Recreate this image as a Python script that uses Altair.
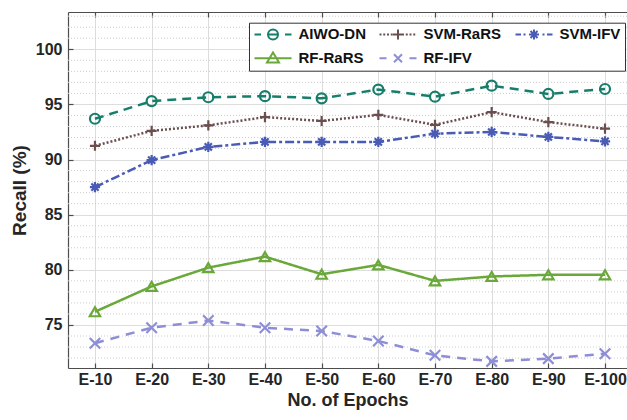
import altair as alt
import pandas as pd

epochs = [10, 20, 30, 40, 50, 60, 70, 80, 90, 100]
series_names = ["AIWO-DN", "SVM-RaRS", "SVM-IFV", "RF-RaRS", "RF-IFV"]
aiwo_dn = [93.7, 95.3, 95.65, 95.75, 95.55, 96.35, 95.7, 96.7, 95.95, 96.4]
svm_rars = [91.25, 92.6, 93.1, 93.85, 93.5, 94.05, 93.15, 94.3, 93.4, 92.8]
svm_ifv = [87.5, 89.95, 91.15, 91.6, 91.6, 91.6, 92.35, 92.5, 92.05, 91.65]
rf_rars = [76.2, 78.5, 80.2, 81.2, 79.6, 80.45, 79.0, 79.4, 79.55, 79.55]
rf_ifv = [73.35, 74.75, 75.4, 74.75, 74.45, 73.55, 72.25, 71.7, 71.95, 72.4]
y_ticks = [75, 80, 85, 90, 95, 100]
minor_y = [v for v in range(72, 104) if v % 5 != 0]

colors = ["#177e6b", "#6b4f4f", "#4a5bb5", "#6aa83a", "#8e8ed6"]
dashes = [[9, 6], [2, 2], [9, 3, 3, 3], [1, 0], [9, 7]]
point_shapes = [
    "circle",
    "M-1,0H1M0,-1V1",
    "M-1,0H1M0,-1V1M-0.7,-0.7L0.7,0.7M0.7,-0.7L-0.7,0.7",
    "triangle-up",
    "M-1,-1L1,1M1,-1L-1,1",
]
point_sizes = [100, 110, 100, 130, 70]


def segs(x0, x1, on, off):
    out = []
    x = x0
    while x < x1:
        e = min(x + on, x1)
        out.append(f"M{x:.2f},0H{e:.2f}")
        x = e + off
    return "".join(out)


circ = "M-1,0A1,1 0 1,0 1,0A1,1 0 1,0 -1,0"
legend_shapes = [
    "M-3.7,0H-2.4M2.4,0H3.7" + circ + "M-1,0H1",
    segs(-3.7, 3.7, 0.4, 0.35) + "M-1,0H1M0,-1V1",
    "M-3.7,0H-2.6M-2.1,0H-1.7M1.7,0H2.1M2.6,0H3.7"
    + "M-1,0H1M0,-1V1M-0.7,-0.7L0.7,0.7M0.7,-0.7L-0.7,0.7",
    "M-3.7,0H3.7M0,-1.15L1.2,0.85L-1.2,0.85Z",
    "M-3.7,0H-2.3M2.3,0H3.7M-0.8,-0.8L0.8,0.8M0.8,-0.8L-0.8,0.8",
]

rows = []
for name, vals in zip(series_names, [aiwo_dn, svm_rars, svm_ifv, rf_rars, rf_ifv]):
    for e, v in zip(epochs, vals):
        rows.append({"epoch": e, "value": v, "series": name})
df = pd.DataFrame(rows)
minor_df = pd.DataFrame({"v": minor_y})

FONT = "Liberation Sans"
TXT = "#262626"
AX = "#4d4d4d"

xscale = alt.Scale(domain=[5.24, 103.88], nice=False, zero=False)
yscale = alt.Scale(domain=[71.1, 103.38], nice=False, zero=False)


def cscale():
    return alt.Scale(domain=series_names, range=colors)


def legend_cfg():
    return alt.Legend(
        title=None,
        orient="none",
        direction="horizontal",
        legendX=181,
        legendY=10.7,
        columns=3,
        columnPadding=9,
        rowPadding=4,
        padding=4,
        symbolOffset=12.5,
        labelOffset=18,
        symbolSize=100,
        symbolStrokeWidth=2,
        labelFont=FONT,
        labelFontSize=15,
        labelFontWeight="bold",
        labelColor="#111111",
        strokeColor="#333333",
        fillColor="white",
        cornerRadius=0,
    )


minor = alt.Chart(minor_df).mark_rule(
    color="#cccccc", strokeDash=[1, 2], strokeWidth=1
).encode(y=alt.Y("v:Q", scale=yscale, axis=None))

lines = alt.Chart(df).mark_line(strokeWidth=2.5).encode(
    x=alt.X(
        "epoch:Q",
        scale=xscale,
        axis=alt.Axis(
            values=epochs,
            labelExpr="'E-' + datum.value",
            title="No. of Epochs",
            grid=True,
            gridColor="#dddddd",
            ticks=False,
            domainColor=AX,
            domainWidth=1.2,
            labelFont=FONT,
            labelFontSize=16,
            labelFontWeight="bold",
            labelColor=TXT,
            labelPadding=3,
            titleFont=FONT,
            titleFontSize=18,
            titleFontWeight="bold",
            titleColor=TXT,
            titlePadding=4,
        ),
    ),
    y=alt.Y(
        "value:Q",
        scale=yscale,
        axis=alt.Axis(
            values=y_ticks,
            title="Recall (%)",
            grid=True,
            gridColor="#dddddd",
            ticks=False,
            domainColor=AX,
            domainWidth=1.2,
            labelFont=FONT,
            labelFontSize=16,
            labelFontWeight="bold",
            labelColor=TXT,
            labelPadding=6,
            titleFont=FONT,
            titleFontSize=19,
            titleFontWeight="bold",
            titleColor=TXT,
            titlePadding=6,
        ),
    ),
    color=alt.Color("series:N", scale=cscale(), legend=None),
    strokeDash=alt.StrokeDash(
        "series:N", scale=alt.Scale(domain=series_names, range=dashes), legend=None
    ),
    detail="series:N",
)

points = alt.Chart(df).mark_point(filled=False, strokeWidth=2.2, opacity=1).encode(
    x=alt.X("epoch:Q", scale=xscale, axis=None),
    y=alt.Y("value:Q", scale=yscale, axis=None),
    color=alt.Color("series:N", scale=cscale(), legend=None),
    shape=alt.Shape(
        "series:N", scale=alt.Scale(domain=series_names, range=point_shapes), legend=None
    ),
    size=alt.Size(
        "series:N", scale=alt.Scale(domain=series_names, range=point_sizes), legend=None
    ),
)

legend_layer = alt.Chart(df).transform_filter("false").mark_point(
    filled=False, strokeWidth=2, size=100, opacity=1
).encode(
    x=alt.X("epoch:Q", scale=xscale, axis=None),
    y=alt.Y("value:Q", scale=yscale, axis=None),
    color=alt.Color("series:N", scale=cscale(), legend=legend_cfg()),
    shape=alt.Shape(
        "series:N",
        scale=alt.Scale(domain=series_names, range=legend_shapes),
        legend=legend_cfg(),
    ),
)

top_frame = alt.Chart(df).mark_point(opacity=0).encode(
    x=alt.X(
        "epoch:Q",
        scale=xscale,
        axis=alt.Axis(orient="top", labels=False, ticks=False, grid=False, title=None,
                      domainColor=AX, domainWidth=1.2),
    ),
    y=alt.Y(
        "value:Q",
        scale=yscale,
        axis=alt.Axis(orient="left", values=y_ticks, labels=False, ticks=True, tickSize=5,
                      offset=-5, domain=False, grid=False, title=None, tickColor=AX,
                      tickWidth=1.2),
    ),
)

top_ticks = alt.Chart(df).mark_point(opacity=0).encode(
    x=alt.X(
        "epoch:Q",
        scale=xscale,
        axis=alt.Axis(orient="top", values=epochs, labels=False, ticks=True, tickSize=5,
                      offset=-5, domain=False, grid=False, title=None, tickColor=AX,
                      tickWidth=1.2),
    ),
    y=alt.Y("value:Q", scale=yscale, axis=None),
)

bottom_ticks = alt.Chart(df).mark_point(opacity=0).encode(
    x=alt.X(
        "epoch:Q",
        scale=xscale,
        axis=alt.Axis(orient="bottom", values=epochs, labels=False, ticks=True, tickSize=5,
                      offset=-5, domain=False, grid=False, title=None, tickColor=AX,
                      tickWidth=1.2),
    ),
    y=alt.Y("value:Q", scale=yscale, axis=None),
)

chart = (
    alt.layer(minor, lines, points, legend_layer, top_frame, top_ticks, bottom_ticks)
    .resolve_scale(shape="independent", color="independent", size="independent")
    .resolve_axis(x="independent", y="independent")
    .properties(
        width=559,
        height=356,
        autosize="none",
        padding={"left": 68, "top": 12, "right": 0, "bottom": 52},
        background="white",
    )
    .configure_view(stroke=None)
)

chart.save("out.html", embed_options={"renderer": "svg", "actions": False})
